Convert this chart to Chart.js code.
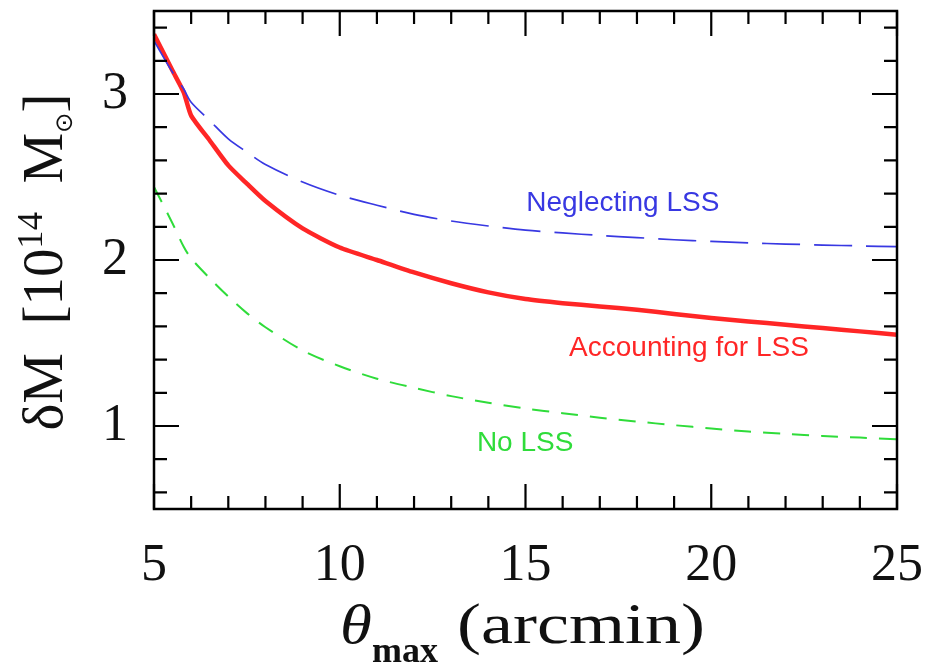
<!DOCTYPE html>
<html>
<head>
<meta charset="utf-8">
<script src="https://cdn.jsdelivr.net/npm/chart.js@4.4.1/dist/chart.umd.min.js"></script>
<style>
  html, body { margin: 0; padding: 0; background: #fff; }
  #wrap { width: 933px; height: 667px; }
</style>
</head>
<body>
<div id="wrap"><canvas id="c" width="933" height="667"></canvas></div>
<script>
// ---- data ----
const thetaMax = [5, 5.5, 5.8, 6, 6.5, 7, 7.5, 8, 9, 10, 11, 12, 13, 14, 15, 16, 17, 18, 19, 20, 21, 22, 23, 24, 25];
const accountingLSS = [3.36, 3.14, 3.01, 2.87, 2.72, 2.57, 2.46, 2.355, 2.19, 2.075, 2.00, 1.925, 1.86, 1.805, 1.765, 1.74, 1.72, 1.70, 1.675, 1.65, 1.63, 1.61, 1.59, 1.57, 1.55];
const neglectingLSS = [3.32, 3.13, 3.03, 2.95, 2.84, 2.73, 2.65, 2.575, 2.47, 2.39, 2.33, 2.275, 2.235, 2.205, 2.18, 2.163, 2.148, 2.135, 2.122, 2.112, 2.103, 2.096, 2.09, 2.085, 2.08];
const noLSS = [2.44, 2.22, 2.08, 2.01, 1.89, 1.78, 1.68, 1.595, 1.455, 1.36, 1.285, 1.23, 1.18, 1.14, 1.105, 1.077, 1.05, 1.027, 1.005, 0.985, 0.967, 0.953, 0.94, 0.93, 0.92];
const xTicks = [5, 10, 15, 20, 25];
const yTicks = [1, 2, 3];
const seriesNames = ['Accounting for LSS', 'Neglecting LSS', 'No LSS'];

const RED = '#ff2626', BLUE = '#3838e2', GREEN = '#2fdc3a';
const toPts = ys => thetaMax.map((x, i) => ({ x, y: ys[i] }));

const tickFont = { family: 'Liberation Serif', size: 52 };

const framePlugin = {
  id: 'frame',
  afterDraw(chart) {
    const { ctx, chartArea: a, scales: { x, y } } = chart;
    ctx.save();
    ctx.strokeStyle = '#000';
    ctx.lineWidth = 2.5;
    ctx.strokeRect(a.left, a.top, a.right - a.left, a.bottom - a.top);
    ctx.lineWidth = 2.2;
    // x ticks (minor every 1, major every 5)
    for (let v = 5; v <= 25; v += 1) {
      const px = x.getPixelForValue(v);
      const len = (v % 5 === 0) ? 25 : 13;
      ctx.beginPath();
      ctx.moveTo(px, a.bottom); ctx.lineTo(px, a.bottom - len);
      ctx.moveTo(px, a.top); ctx.lineTo(px, a.top + len);
      ctx.stroke();
    }
    // y ticks (minor every 0.2, major every 1)
    for (let k = 3; k <= 17; k++) {
      const v = k * 0.2;
      const px = y.getPixelForValue(v);
      const len = (k % 5 === 0) ? 25 : 13;
      ctx.beginPath();
      ctx.moveTo(a.left, px); ctx.lineTo(a.left + len, px);
      ctx.moveTo(a.right, px); ctx.lineTo(a.right - len, px);
      ctx.stroke();
    }
    // curve labels
    ctx.font = '28px "Liberation Sans"';
    ctx.textAlign = 'center';
    ctx.textBaseline = 'middle';
    const labels = [
      { t: seriesNames[1], c: BLUE, x: 17.62, y: 2.34 },
      { t: seriesNames[0], c: RED, x: 19.40, y: 1.466 },
      { t: seriesNames[2], c: GREEN, x: 14.99, y: 0.896 }
    ];
    labels.forEach(l => {
      ctx.fillStyle = l.c;
      ctx.fillText(l.t, x.getPixelForValue(l.x), y.getPixelForValue(l.y));
    });

    // x title: θ_max (arcmin)
    ctx.fillStyle = '#111';
    ctx.textAlign = 'left';
    ctx.textBaseline = 'alphabetic';
    ctx.save();
    ctx.translate(340, 643);
    ctx.scale(1.2, 1);
    ctx.font = 'italic 54px "Liberation Serif"';
    ctx.fillText('θ', 0, 0);
    ctx.restore();
    ctx.font = 'bold 36px "Liberation Serif"';
    ctx.fillText('max', 372, 662);
    ctx.save();
    ctx.translate(457, 643);
    const arcW = (() => { ctx.font = '56px "Liberation Serif"'; return ctx.measureText('(arcmin)').width; })();
    ctx.scale(248 / arcW, 1);
    ctx.fillText('(arcmin)', 0, 0);
    ctx.restore();

    // y title: δM [10^14 M⊙]
    ctx.translate(62, 262);
    ctx.rotate(-Math.PI / 2);
    const parts = [
      { t: 'δM  [10', f: '56px "Liberation Serif"', dy: 0 },
      { t: '14', f: '36px "Liberation Serif"', dy: -20 },
      { t: '  M', f: '56px "Liberation Serif"', dy: 0 },
      { t: '⊙', f: '24px "DejaVu Sans"', dy: 10 },
      { t: ']', f: '56px "Liberation Serif"', dy: 0 }
    ];
    let total = 0;
    parts.forEach(p => { ctx.font = p.f; total += ctx.measureText(p.t).width; });
    const sx = 337 / total;
    ctx.scale(sx, 1);
    let px = -total / 2;
    parts.forEach(p => {
      ctx.font = p.f;
      ctx.fillText(p.t, px, p.dy);
      px += ctx.measureText(p.t).width;
    });
    ctx.restore();
  }
};

const zeroPad = s => { s.paddingTop = 0; s.paddingBottom = 0; s.paddingLeft = 0; s.paddingRight = 0; };

new Chart(document.getElementById('c'), {
  type: 'line',
  data: {
    datasets: [
      { label: seriesNames[1], data: toPts(neglectingLSS), borderColor: BLUE, borderWidth: 1.7, borderDash: [38, 14], pointRadius: 0, tension: 0.3, fill: false },
      { label: seriesNames[2], data: toPts(noLSS), borderColor: GREEN, borderWidth: 2, borderDash: [17, 12], pointRadius: 0, tension: 0.3, fill: false },
      { label: seriesNames[0], data: toPts(accountingLSS), borderColor: RED, borderWidth: 4.5, pointRadius: 0, tension: 0.2, fill: false }
    ]
  },
  options: {
    responsive: false,
    animation: false,
    layout: { padding: { top: 11, right: 36, left: 0, bottom: 0 } },
    plugins: { legend: { display: false }, tooltip: { enabled: false } },
    scales: {
      x: {
        type: 'linear', min: 5, max: 25,
        afterBuildTicks: s => { s.ticks = xTicks.map(v => ({ value: v })); },
        afterFit: s => { s.height = 158; zeroPad(s); },
        ticks: { font: tickFont, color: '#111', padding: 26, maxRotation: 0, autoSkip: false },
        grid: { display: false, drawTicks: false },
        border: { display: false }
      },
      y: {
        type: 'linear', min: 0.5, max: 3.5,
        afterBuildTicks: s => { s.ticks = yTicks.map(v => ({ value: v })); },
        afterFit: s => { s.width = 154; zeroPad(s); },
        ticks: { font: tickFont, color: '#111', padding: 26 },
        grid: { display: false, drawTicks: false },
        border: { display: false }
      }
    }
  },
  plugins: [framePlugin]
});
</script>
</body>
</html>
